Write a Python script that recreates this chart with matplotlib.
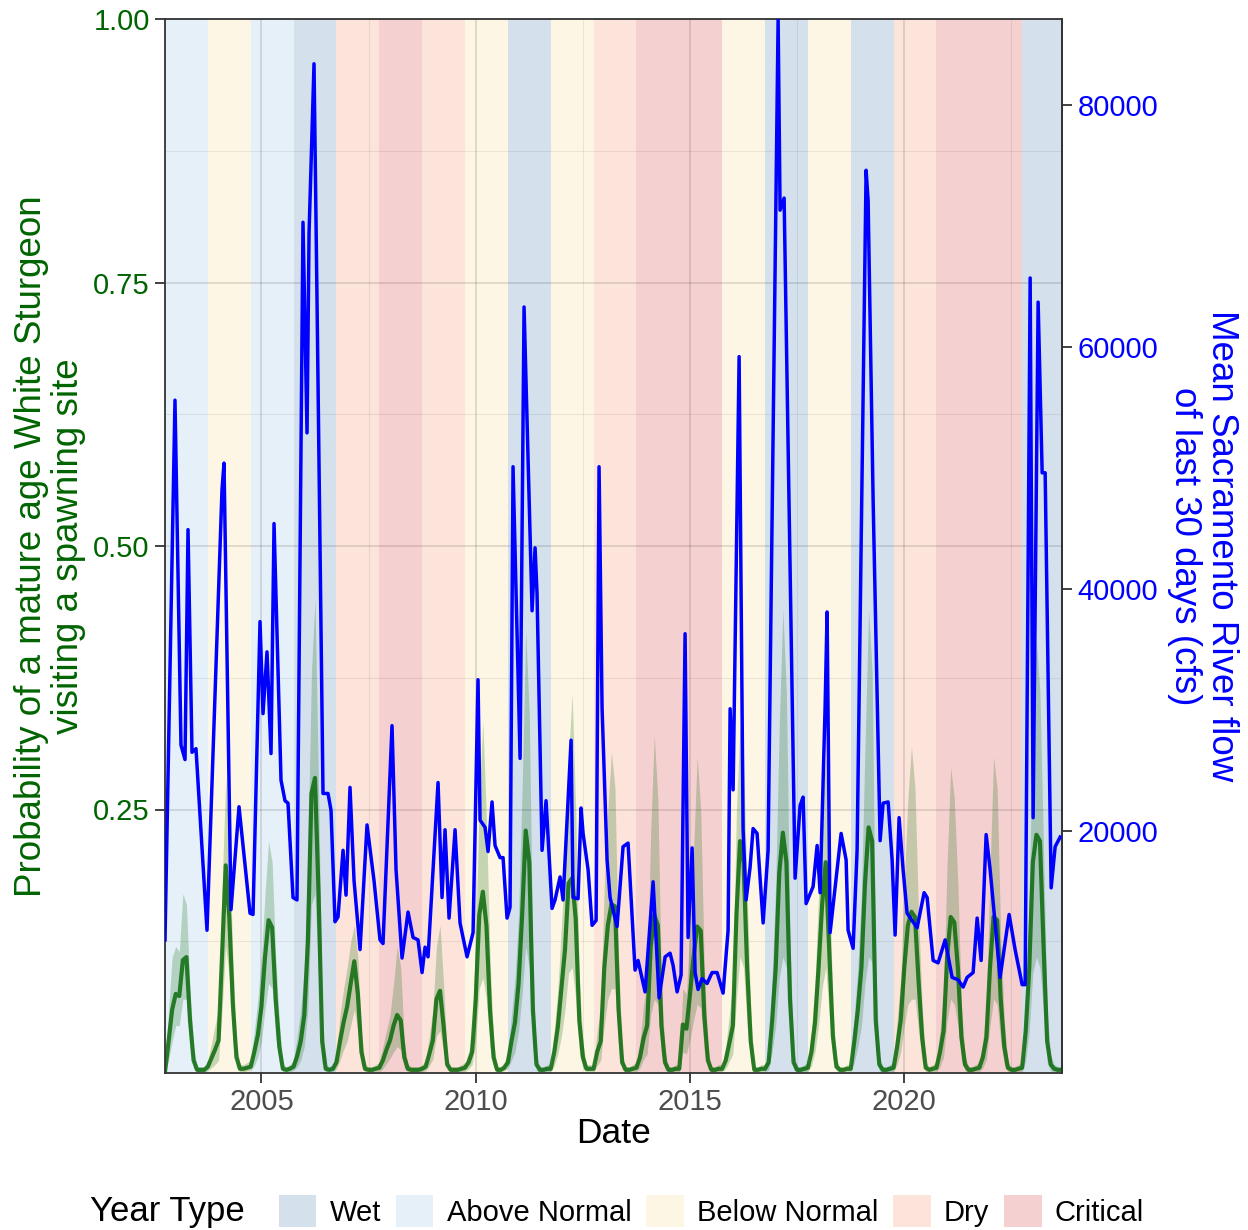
import matplotlib.pyplot as plt
import numpy as np
from matplotlib.patches import Patch

plt.rcParams['font.family'] = ['Liberation Sans', 'DejaVu Sans']

# water year (Oct-Sep) classification, Sacramento Valley index
water_years = list(range(2003, 2024))
year_types = ['Above Normal', 'Below Normal', 'Above Normal', 'Wet', 'Dry',
              'Critical', 'Dry', 'Below Normal', 'Wet', 'Below Normal', 'Dry',
              'Critical', 'Critical', 'Below Normal', 'Wet', 'Below Normal',
              'Wet', 'Dry', 'Critical', 'Critical', 'Wet']
type_order = ['Wet', 'Above Normal', 'Below Normal', 'Dry', 'Critical']
type_colors = {'Wet': '#d5e0ed', 'Above Normal': '#e6f0f8',
               'Below Normal': '#fdf6e4', 'Dry': '#fde4da', 'Critical': '#f5d0d0'}

# monthly spawning-site probability, one row per water year (Oct ... Sep)
prob_mean = [
    0.001, 0.03, 0.06, 0.075, 0.073, 0.107, 0.11, 0.05, 0.012, 0.003, 0.003, 0.003,
    0.006, 0.014, 0.022, 0.031, 0.114, 0.197, 0.148, 0.065, 0.015, 0.004, 0.004, 0.005,
    0.006, 0.02, 0.036, 0.063, 0.11, 0.145, 0.138, 0.07, 0.025, 0.004, 0.003, 0.004,
    0.006, 0.016, 0.03, 0.055, 0.124, 0.265, 0.28, 0.17, 0.03, 0.004, 0.003, 0.004,
    0.01, 0.03, 0.048, 0.063, 0.085, 0.106, 0.075, 0.02, 0.004, 0.003, 0.003, 0.004,
    0.005, 0.012, 0.022, 0.031, 0.045, 0.055, 0.05, 0.015, 0.004, 0.003, 0.003, 0.003,
    0.004, 0.006, 0.018, 0.031, 0.07, 0.078, 0.045, 0.008, 0.003, 0.003, 0.003, 0.004,
    0.005, 0.01, 0.02, 0.07, 0.15, 0.172, 0.14, 0.06, 0.015, 0.003, 0.003, 0.005,
    0.01, 0.03, 0.048, 0.085, 0.15, 0.23, 0.2, 0.06, 0.008, 0.003, 0.003, 0.004,
    0.004, 0.02, 0.044, 0.08, 0.117, 0.18, 0.185, 0.146, 0.05, 0.015, 0.004, 0.004,
    0.004, 0.02, 0.03, 0.1, 0.14, 0.16, 0.158, 0.06, 0.01, 0.003, 0.003, 0.004,
    0.005, 0.015, 0.033, 0.045, 0.12, 0.15, 0.14, 0.045, 0.01, 0.003, 0.003, 0.004,
    0.004, 0.046, 0.042, 0.075, 0.11, 0.139, 0.135, 0.055, 0.012, 0.003, 0.003, 0.004,
    0.004, 0.012, 0.028, 0.045, 0.15, 0.22, 0.2, 0.1, 0.03, 0.003, 0.003, 0.004,
    0.004, 0.01, 0.05, 0.1, 0.19, 0.228, 0.2, 0.07, 0.01, 0.003, 0.003, 0.004,
    0.005, 0.02, 0.048, 0.1, 0.16, 0.2, 0.115, 0.035, 0.006, 0.003, 0.003, 0.004,
    0.004, 0.03, 0.06, 0.1, 0.18, 0.233, 0.22, 0.05, 0.008, 0.003, 0.003, 0.004,
    0.005, 0.025, 0.05, 0.1, 0.14, 0.153, 0.148, 0.087, 0.034, 0.005, 0.003, 0.004,
    0.005, 0.02, 0.04, 0.11, 0.148, 0.143, 0.1, 0.034, 0.008, 0.003, 0.003, 0.004,
    0.005, 0.015, 0.034, 0.1, 0.148, 0.145, 0.07, 0.025, 0.005, 0.003, 0.003, 0.004,
    0.005, 0.04, 0.1, 0.2, 0.226, 0.22, 0.12, 0.03, 0.008, 0.004, 0.003, 0.003,
]

prob_low = [
    0.0, 0.012, 0.03, 0.045, 0.045, 0.07, 0.07, 0.025, 0.004, 0.001, 0.001, 0.001,
    0.002, 0.005, 0.008, 0.012, 0.06, 0.12, 0.09, 0.03, 0.005, 0.001, 0.001, 0.002,
    0.002, 0.007, 0.015, 0.03, 0.06, 0.085, 0.08, 0.035, 0.01, 0.001, 0.001, 0.001,
    0.002, 0.006, 0.012, 0.025, 0.06, 0.16, 0.17, 0.09, 0.01, 0.001, 0.001, 0.001,
    0.004, 0.012, 0.022, 0.03, 0.045, 0.06, 0.04, 0.008, 0.001, 0.001, 0.001, 0.001,
    0.001, 0.004, 0.009, 0.014, 0.02, 0.025, 0.022, 0.005, 0.001, 0.001, 0.001, 0.001,
    0.001, 0.002, 0.007, 0.013, 0.035, 0.04, 0.02, 0.003, 0.001, 0.001, 0.001, 0.001,
    0.001, 0.004, 0.008, 0.03, 0.08, 0.09, 0.07, 0.025, 0.005, 0.001, 0.001, 0.002,
    0.004, 0.012, 0.02, 0.04, 0.075, 0.12, 0.1, 0.025, 0.002, 0.001, 0.001, 0.001,
    0.001, 0.007, 0.018, 0.035, 0.06, 0.095, 0.1, 0.07, 0.02, 0.005, 0.001, 0.001,
    0.001, 0.007, 0.012, 0.045, 0.07, 0.08, 0.08, 0.025, 0.003, 0.001, 0.001, 0.001,
    0.001, 0.005, 0.013, 0.018, 0.055, 0.07, 0.065, 0.018, 0.003, 0.001, 0.001, 0.001,
    0.001, 0.02, 0.018, 0.032, 0.05, 0.065, 0.062, 0.022, 0.004, 0.001, 0.001, 0.001,
    0.001, 0.004, 0.011, 0.018, 0.07, 0.11, 0.1, 0.045, 0.01, 0.001, 0.001, 0.001,
    0.001, 0.003, 0.02, 0.045, 0.09, 0.11, 0.1, 0.03, 0.003, 0.001, 0.001, 0.001,
    0.001, 0.007, 0.02, 0.045, 0.08, 0.1, 0.055, 0.014, 0.002, 0.001, 0.001, 0.001,
    0.001, 0.01, 0.025, 0.045, 0.085, 0.11, 0.105, 0.02, 0.002, 0.001, 0.001, 0.001,
    0.001, 0.008, 0.02, 0.045, 0.065, 0.07, 0.07, 0.04, 0.012, 0.001, 0.001, 0.001,
    0.001, 0.006, 0.015, 0.05, 0.07, 0.065, 0.045, 0.012, 0.002, 0.001, 0.001, 0.001,
    0.001, 0.005, 0.013, 0.045, 0.07, 0.065, 0.03, 0.008, 0.001, 0.001, 0.001, 0.001,
    0.001, 0.012, 0.04, 0.095, 0.11, 0.1, 0.055, 0.01, 0.002, 0.001, 0.001, 0.001,
]

prob_high = [
    0.005, 0.06, 0.11, 0.12, 0.115, 0.17, 0.16, 0.08, 0.025, 0.006, 0.006, 0.006,
    0.012, 0.028, 0.045, 0.06, 0.18, 0.28, 0.22, 0.11, 0.03, 0.008, 0.008, 0.01,
    0.012, 0.04, 0.07, 0.11, 0.17, 0.22, 0.2, 0.11, 0.05, 0.008, 0.006, 0.008,
    0.012, 0.035, 0.06, 0.1, 0.21, 0.38, 0.45, 0.27, 0.06, 0.008, 0.006, 0.008,
    0.02, 0.055, 0.08, 0.1, 0.125, 0.14, 0.11, 0.04, 0.008, 0.006, 0.006, 0.008,
    0.01, 0.025, 0.04, 0.055, 0.085, 0.12, 0.1, 0.03, 0.008, 0.006, 0.006, 0.006,
    0.008, 0.012, 0.035, 0.06, 0.12, 0.14, 0.085, 0.016, 0.006, 0.006, 0.006, 0.008,
    0.01, 0.02, 0.04, 0.13, 0.26, 0.335, 0.24, 0.11, 0.03, 0.006, 0.006, 0.01,
    0.02, 0.055, 0.09, 0.15, 0.27, 0.42, 0.34, 0.11, 0.016, 0.006, 0.006, 0.008,
    0.008, 0.04, 0.08, 0.14, 0.2, 0.3, 0.36, 0.25, 0.09, 0.03, 0.008, 0.008,
    0.008, 0.04, 0.06, 0.18, 0.25, 0.305, 0.27, 0.11, 0.02, 0.006, 0.006, 0.008,
    0.01, 0.03, 0.065, 0.085, 0.23, 0.32, 0.26, 0.085, 0.02, 0.006, 0.006, 0.008,
    0.008, 0.08, 0.075, 0.14, 0.21, 0.3, 0.25, 0.1, 0.024, 0.006, 0.006, 0.008,
    0.008, 0.025, 0.055, 0.085, 0.25, 0.33, 0.3, 0.17, 0.06, 0.006, 0.006, 0.008,
    0.008, 0.02, 0.09, 0.18, 0.33, 0.44, 0.36, 0.13, 0.02, 0.006, 0.006, 0.008,
    0.01, 0.04, 0.085, 0.17, 0.25, 0.3, 0.19, 0.065, 0.012, 0.006, 0.006, 0.008,
    0.008, 0.055, 0.1, 0.17, 0.31, 0.44, 0.38, 0.1, 0.016, 0.006, 0.006, 0.008,
    0.01, 0.05, 0.09, 0.18, 0.26, 0.31, 0.27, 0.15, 0.065, 0.01, 0.006, 0.008,
    0.01, 0.04, 0.075, 0.2, 0.29, 0.26, 0.18, 0.065, 0.016, 0.006, 0.006, 0.008,
    0.01, 0.03, 0.065, 0.19, 0.3, 0.27, 0.13, 0.05, 0.01, 0.006, 0.006, 0.008,
    0.01, 0.075, 0.17, 0.34, 0.41, 0.36, 0.21, 0.06, 0.016, 0.008, 0.006, 0.006,
]

# mean flow of the previous 30 days, Sacramento River (decimal year, cfs)
flow_date = [
    2002.750, 2002.983, 2003.123, 2003.217, 2003.287, 2003.380, 2003.473, 2003.730,
    2004.080, 2004.127, 2004.290, 2004.477, 2004.734, 2004.804, 2004.967, 2005.037,
    2005.130, 2005.224, 2005.294, 2005.457, 2005.550, 2005.620, 2005.737, 2005.830,
    2005.970, 2006.064, 2006.111, 2006.227, 2006.297, 2006.437, 2006.554, 2006.624,
    2006.717, 2006.787, 2006.904, 2006.974, 2007.067, 2007.161, 2007.301, 2007.464,
    2007.627, 2007.767, 2007.837, 2008.047, 2008.141, 2008.281, 2008.421, 2008.538,
    2008.654, 2008.748, 2008.818, 2008.888, 2009.121, 2009.214, 2009.284, 2009.378,
    2009.518, 2009.634, 2009.798, 2009.938, 2010.054, 2010.101, 2010.218, 2010.288,
    2010.381, 2010.451, 2010.568, 2010.638, 2010.731, 2010.801, 2010.871, 2011.035,
    2011.128, 2011.315, 2011.385, 2011.431, 2011.548, 2011.641, 2011.781, 2011.851,
    2011.968, 2012.038, 2012.225, 2012.271, 2012.388, 2012.458, 2012.505, 2012.622,
    2012.715, 2012.809, 2012.878, 2012.948, 2013.065, 2013.135, 2013.298, 2013.438,
    2013.555, 2013.718, 2013.788, 2013.952, 2014.139, 2014.279, 2014.419, 2014.535,
    2014.605, 2014.699, 2014.792, 2014.885, 2014.955, 2015.049, 2015.119, 2015.189,
    2015.282, 2015.399, 2015.515, 2015.632, 2015.772, 2015.889, 2015.936, 2016.006,
    2016.146, 2016.239, 2016.309, 2016.402, 2016.472, 2016.565, 2016.706, 2016.822,
    2017.056, 2017.102, 2017.196, 2017.452, 2017.569, 2017.639, 2017.709, 2017.872,
    2017.966, 2018.036, 2018.152, 2018.199, 2018.269, 2018.526, 2018.643, 2018.689,
    2018.806, 2018.899, 2019.109, 2019.156, 2019.273, 2019.436, 2019.506, 2019.623,
    2019.716, 2019.786, 2019.879, 2019.972, 2020.066, 2020.183, 2020.299, 2020.463,
    2020.533, 2020.673, 2020.789, 2020.953, 2021.116, 2021.256, 2021.373, 2021.466,
    2021.606, 2021.700, 2021.793, 2021.910, 2022.003, 2022.236, 2022.446, 2022.586,
    2022.750, 2022.820, 2022.937, 2023.006, 2023.123, 2023.217, 2023.287, 2023.427,
    2023.520, 2023.637,
]
flow_cfs = [
    11000, 55600, 27100, 25900, 44900, 26500, 26800, 11800,
    48200, 50400, 13500, 22000, 13200, 13100, 37300, 29700,
    34800, 26400, 45400, 24200, 22500, 22300, 14500, 14300,
    70300, 52900, 69400, 83400, 63900, 23100, 23100, 21700,
    12500, 12900, 18400, 14700, 23600, 15900, 10200, 20500,
    15900, 11000, 10700, 28700, 16800, 9500, 13300, 11200,
    11000, 8300, 10400, 9600, 24000, 14500, 20100, 12800,
    20100, 12400, 9600, 11600, 32500, 20900, 20300, 18300,
    22400, 18800, 17800, 17800, 12800, 13700, 50100, 26000,
    63300, 38200, 43400, 39600, 18400, 22500, 13600, 14300,
    16200, 14300, 27500, 14500, 14400, 21900, 19800, 16800,
    12200, 12600, 50100, 30200, 17600, 14500, 12100, 18700,
    19000, 8500, 9300, 6700, 15800, 6200, 9600, 9900,
    8900, 6700, 8100, 36300, 11200, 18600, 8300, 6900,
    7800, 7400, 8300, 8300, 6600, 11800, 30100, 23400,
    59200, 20100, 14300, 17000, 20200, 19800, 12400, 18400,
    87100, 71300, 72300, 16100, 22100, 22800, 14000, 15400,
    18800, 14900, 30200, 38100, 11600, 19800, 17600, 11800,
    10300, 18400, 74600, 72100, 47300, 19200, 22300, 22400,
    17600, 11400, 21100, 16800, 13200, 12600, 12000, 14900,
    14500, 9300, 9100, 11000, 7900, 7700, 7100, 7900,
    8300, 12800, 9300, 19700, 16800, 7900, 13100, 10200,
    7300, 7300, 65700, 21100, 63700, 49600, 49600, 15300,
    18700, 19500,
]

months = 2002.75 + np.arange(len(prob_mean)) / 12  # first of each month from Oct 2002
flow_max = max(flow_cfs)

fig = plt.figure(figsize=(12.48, 12.30), dpi=100)
ax = fig.add_axes([165 / 1248, 1 - 1073 / 1230, 897 / 1248, 1054 / 1230])

# year-type background, one band per water year
for wy, yt in zip(water_years, year_types):
    ax.axvspan(wy - 0.25, wy + 0.75, color=type_colors[yt], lw=0, zorder=0)

ax.fill_between(months, prob_low, prob_high, color='darkgreen', alpha=0.22,
                lw=0, zorder=1.6)
ax.plot(months, prob_mean, color='darkgreen', alpha=0.8, lw=3.0, zorder=2)
ax.plot(flow_date, np.array(flow_cfs) / flow_max, color='blue', lw=2.5, zorder=3)

ax.set_xlim(2002.75, 2023.68)
ax.set_ylim(0, 1)
ax.set_xticks([2005, 2010, 2015, 2020])
ax.set_xticklabels(['2005', '2010', '2015', '2020'])
ax.set_xticks([2007.5, 2012.5, 2017.5, 2022.5], minor=True)
ax.set_yticks([0.25, 0.5, 0.75, 1.0])
ax.set_yticklabels(['0.25', '0.50', '0.75', '1.00'])
ax.set_yticks([0.125, 0.375, 0.625, 0.875], minor=True)

ax.grid(which='major', color='black', alpha=0.12, lw=1.3)
ax.grid(which='minor', color='black', alpha=0.07, lw=0.8)
ax.tick_params(which='minor', length=0)
ax.tick_params(which='major', length=7, width=1.3, color='#333333', labelsize=21)
ax.tick_params(axis='x', labelcolor='#4d4d4d', pad=4)
ax.tick_params(axis='y', labelcolor='darkgreen', pad=4)
for sp in ax.spines.values():
    sp.set_color('#333333')
    sp.set_linewidth(1.3)

ax.set_xlabel('Date', fontsize=25.5, va='center')
ax.xaxis.set_label_coords(0.5, -0.057)
ax.set_ylabel('Probability of a mature age White Sturgeon\nvisiting a spawning site',
              color='darkgreen', fontsize=26.5, linespacing=1.08, va='center')
ax.yaxis.set_label_coords(-0.128, 0.5)

sec = ax.secondary_yaxis('right', functions=(lambda p: p * flow_max,
                                              lambda f: f / flow_max))
sec.set_yticks([20000, 40000, 60000, 80000])
sec.set_yticklabels(['20000', '40000', '60000', '80000'])
sec.tick_params(length=7, width=1.3, color='#333333', labelsize=21,
                labelcolor='blue', pad=4)
sec.spines['right'].set_color('#333333')
sec.spines['right'].set_linewidth(1.3)
ax.text(1.157, 0.5, 'Mean Sacramento River flow\nof last 30 days (cfs)',
        transform=ax.transAxes, color='blue', fontsize=26.5, rotation=270,
        ha='center', va='center', linespacing=1.08, rotation_mode='anchor')

handles = [Patch(facecolor=type_colors[t], edgecolor='none') for t in type_order]
fig.legend(handles, type_order, loc='center', bbox_to_anchor=(0.57, 0.0154),
           ncol=5, frameon=False, fontsize=21, handlelength=1.3, handleheight=1.3,
           handletextpad=0.45, columnspacing=0.5, borderpad=0, borderaxespad=0)
fig.text(90 / 1248, 0.0154, 'Year Type', fontsize=25, va='center', ha='left')

fig.savefig('out.png', dpi=100)
